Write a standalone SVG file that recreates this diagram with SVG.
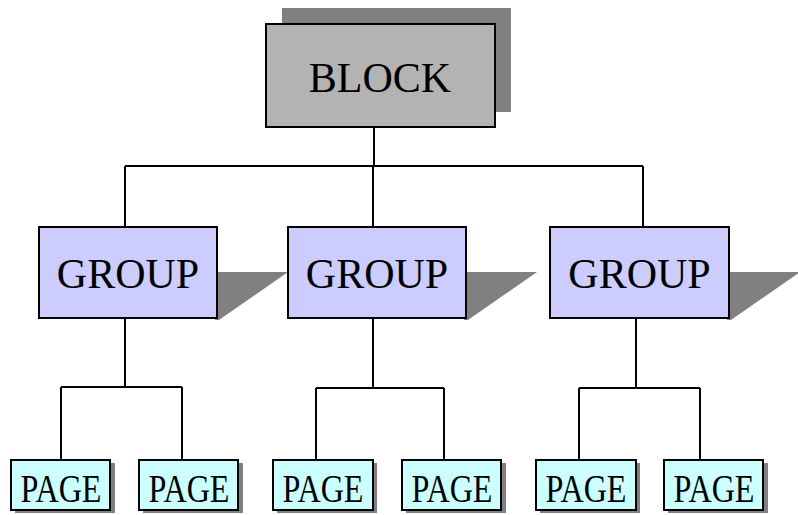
<svg xmlns="http://www.w3.org/2000/svg" width="798" height="515" viewBox="0 0 798 515">
<style>
  .ln{stroke:#000;stroke-width:2;fill:none}
  .sh{fill:#808080;stroke:none}
  .blk{fill:#b3b3b3;stroke:#000;stroke-width:2}
  .grp{fill:#ccccff;stroke:#000;stroke-width:2}
  .pg{fill:#ccffff;stroke:#000;stroke-width:2}
  .t{font-family:"Liberation Serif","Times New Roman",serif;fill:#000;text-anchor:middle}
  .tb{font-size:42px}
  .tp{font-size:40px}
</style>
<rect width="798" height="515" fill="#fff"/>
<g id="connectors">
  <path class="ln" d="M374 127V166M125 166H643M125 166V227M373 166V227M643 166V227"/>
  <path class="ln" d="M125 318V387M61 387H182M61 387V460M182 387V460"/>
  <path class="ln" d="M373 318V388M316 388H444M316 388V460M444 388V460"/>
  <path class="ln" d="M636 318V388M579 388H700M579 388V460M700 388V460"/>
</g>
<g id="block">
  <rect class="sh" x="282" y="8" width="229" height="104"/>
  <rect class="blk" x="266" y="24" width="229" height="103"/>
  <text class="t tb" x="380" y="92">BLOCK</text>
</g>
<g id="group1">
  <polygon class="sh" points="215,272 288,272 219,320 215,320"/>
  <rect class="grp" x="39" y="227" width="178" height="91"/>
  <text class="t tb" x="128" y="288">GROUP</text>
</g>
<g id="group2">
  <polygon class="sh" points="464,272 537,272 468,320 464,320"/>
  <rect class="grp" x="288" y="227" width="178" height="91"/>
  <text class="t tb" x="377" y="288">GROUP</text>
</g>
<g id="group3">
  <polygon class="sh" points="727,272 800,272 731,320 727,320"/>
  <rect class="grp" x="550" y="227" width="179" height="91"/>
  <text class="t tb" x="639.5" y="288">GROUP</text>
</g>
<g id="page1">
  <rect class="sh" x="15" y="463" width="100" height="50"/>
  <rect class="pg" x="11" y="460" width="99" height="50"/>
  <text class="t tp" x="61" y="502" textLength="81" lengthAdjust="spacingAndGlyphs">PAGE</text>
</g>
<g id="page2">
  <rect class="sh" x="143" y="463" width="100" height="50"/>
  <rect class="pg" x="139" y="460" width="99" height="50"/>
  <text class="t tp" x="189" y="502" textLength="81" lengthAdjust="spacingAndGlyphs">PAGE</text>
</g>
<g id="page3">
  <rect class="sh" x="277" y="463" width="100" height="50"/>
  <rect class="pg" x="273" y="460" width="100" height="50"/>
  <text class="t tp" x="323" y="502" textLength="81" lengthAdjust="spacingAndGlyphs">PAGE</text>
</g>
<g id="page4">
  <rect class="sh" x="406" y="463" width="100" height="50"/>
  <rect class="pg" x="402" y="460" width="99" height="50"/>
  <text class="t tp" x="452" y="502" textLength="81" lengthAdjust="spacingAndGlyphs">PAGE</text>
</g>
<g id="page5">
  <rect class="sh" x="540" y="463" width="100" height="50"/>
  <rect class="pg" x="536" y="460" width="100" height="50"/>
  <text class="t tp" x="586" y="502" textLength="81" lengthAdjust="spacingAndGlyphs">PAGE</text>
</g>
<g id="page6">
  <rect class="sh" x="668" y="463" width="100" height="50"/>
  <rect class="pg" x="664" y="460" width="99" height="50"/>
  <text class="t tp" x="714" y="502" textLength="81" lengthAdjust="spacingAndGlyphs">PAGE</text>
</g>
</svg>
